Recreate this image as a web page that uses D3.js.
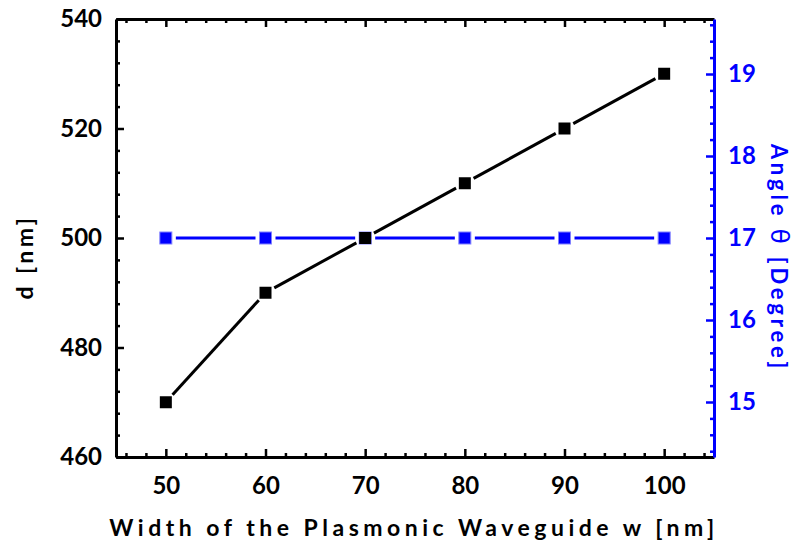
<!DOCTYPE html>
<html>
<head>
<meta charset="utf-8">
<script src="https://cdn.jsdelivr.net/npm/d3@7"></script>
<style>
  body { margin: 0; background: #fff; }
  text { font-family: Lato, "Open Sans", sans-serif; font-weight: bold; }
</style>
</head>
<body>
<svg></svg>
<script>
var width = 796;
var height = 544;

// data
var widths = [50, 60, 70, 80, 90, 100];
var dValues = [470, 490, 500, 510, 520, 530];
var angleValues = [17, 17, 17, 17, 17, 17];
var xTicks = [50, 60, 70, 80, 90, 100];
var dTicks = [460, 480, 500, 520, 540];
var angleTicks = [15, 16, 17, 18, 19];

var svg = d3.select("svg")
            .attr("width", width)
            .attr("height", height);

var plotLeft = 116, plotRight = 714, plotTop = 19, plotBottom = 457;
var blue = "#0000ff";
var tickFont = 24;

var xScale = d3.scaleLinear().domain([45, 105]).range([plotLeft, plotRight]);
var yScale = d3.scaleLinear().domain([460, 540]).range([plotBottom, plotTop]);
var y2Scale = d3.scaleLinear().domain([15 - 55 / 82, 19 + 55 / 82]).range([plotBottom, plotTop]);

// minor ticks
function range(a, b, s) {
  var out = [];
  for (var v = a; v <= b + 1e-9; v += s) out.push(+v.toFixed(4));
  return out;
}

var xMinor = range(46, 104, 2).filter(function(v) { return v % 10 !== 0; });
var yMinor = range(460, 540, 4).filter(function(v) { return v % 20 !== 0; });
var y2Minor = range(14.4, 19.6, 0.2).filter(function(v) { return Math.abs(v - Math.round(v)) > 1e-6; });

var axes = svg.append("g");

function styleMajor(color) {
  return function(g) {
    g.select(".domain").attr("stroke", color).attr("stroke-width", 3);
    g.selectAll(".tick line").attr("stroke", color).attr("stroke-width", 2.5);
    g.selectAll(".tick text").attr("font-size", tickFont).attr("fill", color);
  };
}
function styleMinor(color) {
  return function(g) {
    g.select(".domain").remove();
    g.selectAll(".tick line").attr("stroke", color).attr("stroke-width", 2.5);
  };
}

// bottom axis
axes.append("g")
  .attr("transform", "translate(0," + plotBottom + ")")
  .call(d3.axisBottom(xScale).tickValues(xTicks).tickSize(-8).tickPadding(20).tickSizeOuter(0))
  .call(styleMajor("#000"));
axes.append("g")
  .attr("transform", "translate(0," + plotBottom + ")")
  .call(d3.axisBottom(xScale).tickValues(xMinor).tickSize(-4).tickFormat("").tickSizeOuter(0))
  .call(styleMinor("#000"));

// top axis (mirror, no labels)
axes.append("g")
  .attr("transform", "translate(0," + plotTop + ")")
  .call(d3.axisTop(xScale).tickValues(xTicks).tickSize(-8).tickFormat("").tickSizeOuter(0))
  .call(styleMajor("#000"));
axes.append("g")
  .attr("transform", "translate(0," + plotTop + ")")
  .call(d3.axisTop(xScale).tickValues(xMinor).tickSize(-4).tickFormat("").tickSizeOuter(0))
  .call(styleMinor("#000"));

// left axis
axes.append("g")
  .attr("transform", "translate(" + plotLeft + ",0)")
  .call(d3.axisLeft(yScale).tickValues(dTicks).tickSize(-8).tickPadding(14).tickSizeOuter(0))
  .call(styleMajor("#000"));
axes.append("g")
  .attr("transform", "translate(" + plotLeft + ",0)")
  .call(d3.axisLeft(yScale).tickValues(yMinor).tickSize(-4).tickFormat("").tickSizeOuter(0))
  .call(styleMinor("#000"));

// right axis (blue)
axes.append("g")
  .attr("transform", "translate(" + plotRight + ",0)")
  .call(d3.axisRight(y2Scale).tickValues(angleTicks).tickFormat(d3.format("d"))
    .tickSize(-8).tickPadding(14).tickSizeOuter(0))
  .call(styleMajor(blue));
axes.append("g")
  .attr("transform", "translate(" + plotRight + ",0)")
  .call(d3.axisRight(y2Scale).tickValues(y2Minor).tickSize(-4).tickFormat("").tickSizeOuter(0))
  .call(styleMinor(blue));

// line with gaps around markers
function drawSeries(xs, ys, ysc, color, gap) {
  var pts = xs.map(function(x, i) { return [xScale(x), ysc(ys[i])]; });
  var segs = [];
  for (var i = 0; i < pts.length - 1; i++) {
    var a = pts[i], b = pts[i + 1];
    var dx = b[0] - a[0], dy = b[1] - a[1];
    var len = Math.sqrt(dx * dx + dy * dy);
    var ux = dx / len, uy = dy / len;
    segs.push([a[0] + ux * gap, a[1] + uy * gap, b[0] - ux * gap, b[1] - uy * gap]);
  }
  svg.append("g").selectAll("line")
    .data(segs)
    .enter()
    .append("line")
    .attr("x1", function(d) { return d[0]; })
    .attr("y1", function(d) { return d[1]; })
    .attr("x2", function(d) { return d[2]; })
    .attr("y2", function(d) { return d[3]; })
    .attr("stroke", color)
    .attr("stroke-width", 3);
  return pts;
}

var bluePts = drawSeries(widths, angleValues, y2Scale, blue, 10);
var blackPts = drawSeries(widths, dValues, yScale, "#000", 10);

svg.append("g").selectAll("rect")
  .data(bluePts)
  .enter()
  .append("rect")
  .attr("x", function(d) { return d[0] - 6; })
  .attr("y", function(d) { return d[1] - 6; })
  .attr("width", 12)
  .attr("height", 12)
  .attr("fill", blue)
  .attr("stroke", "#8080ff")
  .attr("stroke-width", 1);

svg.append("g").selectAll("rect")
  .data(blackPts)
  .enter()
  .append("rect")
  .attr("x", function(d) { return d[0] - 6; })
  .attr("y", function(d) { return d[1] - 6; })
  .attr("width", 12)
  .attr("height", 12)
  .attr("fill", "#000");

// axis titles
svg.append("text")
  .attr("x", 414)
  .attr("y", 536)
  .attr("text-anchor", "middle")
  .attr("font-size", 23)
  .attr("letter-spacing", 4.5)
  .text("Width of the Plasmonic Waveguide w [nm]");

svg.append("text")
  .attr("transform", "translate(33,257) rotate(-90)")
  .attr("text-anchor", "middle")
  .attr("font-size", 23)
  .attr("letter-spacing", 3.5)
  .text("d [nm]");

var rt = svg.append("text")
  .attr("transform", "translate(771,258) rotate(90)")
  .attr("text-anchor", "middle")
  .attr("font-size", 22)
  .attr("letter-spacing", 3.8)
  .attr("fill", blue);
rt.append("tspan").text("Angle ");
rt.append("tspan").attr("font-size", 25).attr("font-family", "DejaVu Sans").attr("font-weight", "normal").text("θ");
rt.append("tspan").text(" [Degree]");
</script>
</body>
</html>
